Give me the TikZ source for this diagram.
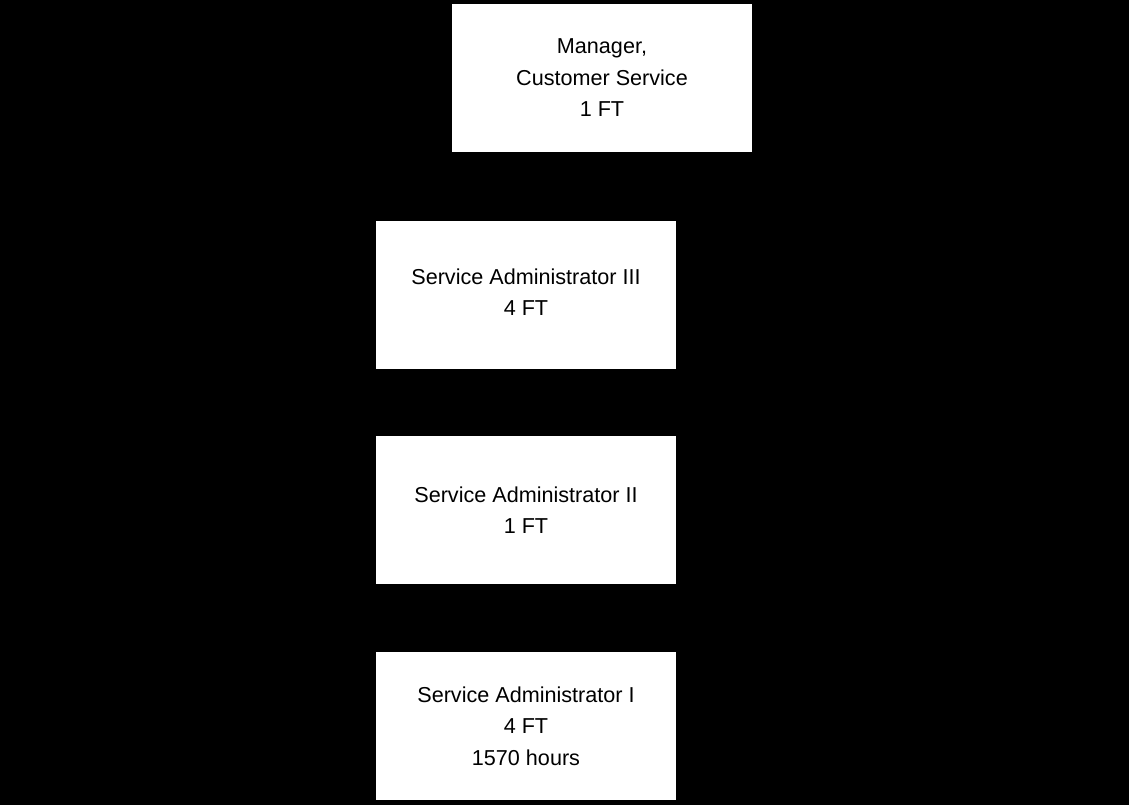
\documentclass[tikz,border=0pt]{standalone}
\usepackage{fontspec}
\setmainfont{Liberation Sans}
\begin{document}
\begin{tikzpicture}[x=1pt,y=-1pt,
  orgbox/.style={fill=white,draw=none,minimum width=300pt,minimum height=148pt,
    inner sep=0pt,align=center,text=black,font=\fontsize{21.6}{31.5}\selectfont}]
\fill[black] (0,0) rectangle (1129,805);
\useasboundingbox (0,0) rectangle (1129,805);
\node[orgbox] (mgr) at (602,78) {Manager,\\Customer Service\\1 FT};
\node[orgbox] (sa3) at (526,294.5) {Service Administrator III\\4 FT\vphantom{g}};
\node[orgbox] (sa2) at (526,510) {Service Administrator II\\1 FT};
\node[orgbox] (sa1) at (526,726) {Service Administrator I\\4 FT\\1570 hours};
\end{tikzpicture}
\end{document}
